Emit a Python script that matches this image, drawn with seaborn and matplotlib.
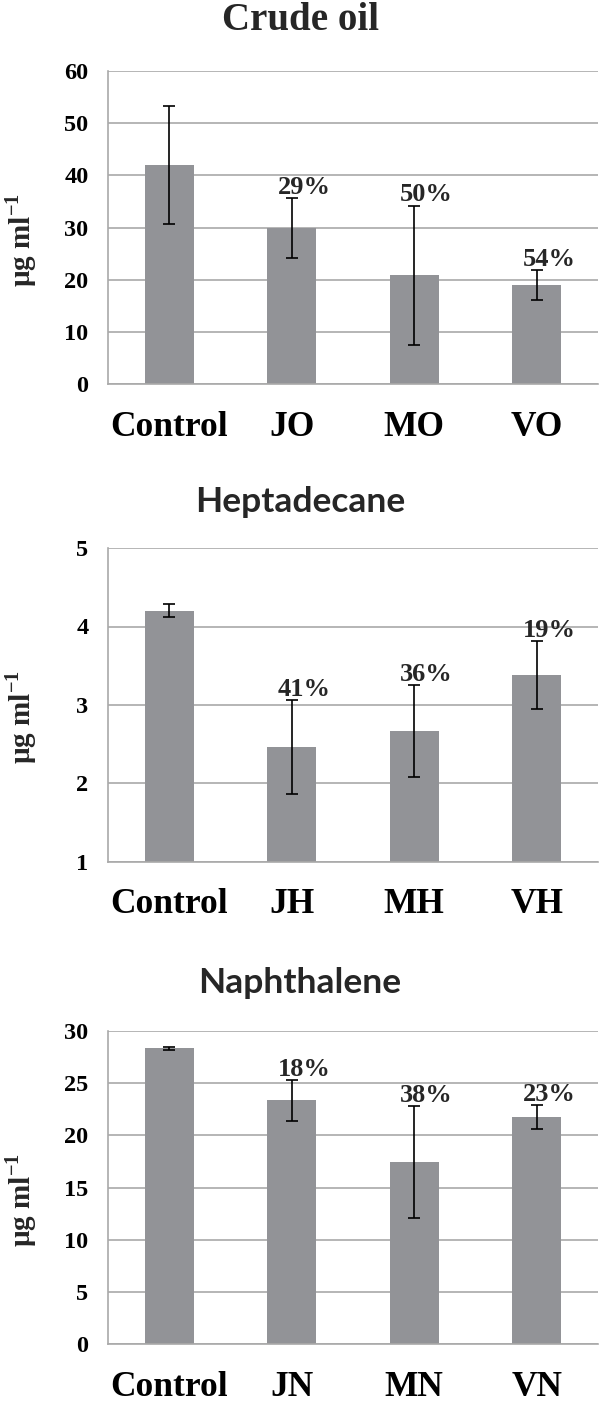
import numpy as np
import seaborn as sns
import matplotlib
matplotlib.use("Agg")
import matplotlib.pyplot as plt

# Data
crude_labels = ["Control", "JO", "MO", "VO"]
crude_mean = [42.0, 29.9, 20.9, 19.0]
crude_err = [11.3, 5.8, 13.3, 2.85]
crude_pct = ["", "29%", "50%", "54%"]

hepta_labels = ["Control", "JH", "MH", "VH"]
hepta_mean = [4.20, 2.46, 2.67, 3.38]
hepta_err = [0.085, 0.60, 0.585, 0.43]
hepta_pct = ["", "41%", "36%", "19%"]

naph_labels = ["Control", "JN", "MN", "VN"]
naph_mean = [28.3, 23.35, 17.45, 21.75]
naph_err = [0.12, 1.95, 5.35, 1.15]
naph_pct = ["", "18%", "38%", "23%"]

sns.set_theme(style="white")
plt.rcParams['font.family'] = ['Liberation Serif', 'DejaVu Serif']
plt.rcParams['font.weight'] = 'bold'
plt.rcParams['mathtext.fontset'] = 'custom'
plt.rcParams['mathtext.rm'] = 'Liberation Serif:bold'
plt.rcParams['mathtext.bf'] = 'Liberation Serif:bold'

bar_color = "#929397"
grid_color = "#a9a9a9"
serif = ['Liberation Serif', 'DejaVu Serif']

fig = plt.figure(figsize=(6, 14.1), dpi=100)

panels = [
    ("Crude oil", serif, 28, crude_labels, crude_mean, crude_err, crude_pct, (0, 60), np.arange(0, 61, 10), 1 - 384.3 / 1410, 1 - 20 / 1410),
    ("Heptadecane", ['Lato', 'DejaVu Sans'], 25.5, hepta_labels, hepta_mean, hepta_err, hepta_pct, (1, 5), np.arange(1, 6, 1), 1 - 861.7 / 1410, 1 - 502 / 1410),
    ("Naphthalene", ['Lato', 'DejaVu Sans'], 25.5, naph_labels, naph_mean, naph_err, naph_pct, (0, 30), np.arange(0, 31, 5), 1 - 1344.3 / 1410, 1 - 983 / 1410),
]

for title, tfont, tsize, labels, means, errs, pcts, ylim, yticks, bottom, ty in panels:
    ax = fig.add_axes([108 / 600, bottom, 490 / 600, 313.6 / 1410])
    sns.barplot(x=labels, y=means, color=bar_color, saturation=1, width=0.4,
                linewidth=0, ax=ax)
    ax.errorbar(np.arange(len(means)), means, yerr=errs, fmt='none',
                ecolor='black', elinewidth=1.2, capsize=4, capthick=1.2, zorder=5)
    for i, p in enumerate(pcts):
        if p:
            ax.annotate(p, (i + 0.1, means[i] + errs[i]), xytext=(0, 3),
                        textcoords='offset points', ha='center', va='baseline',
                        fontsize=19, fontweight='bold', family=serif, zorder=6)

    ax.set_xlim(-0.5, len(labels) - 0.5)
    ax.set_ylim(*ylim)
    ax.set_yticks(yticks)
    ax.set_yticklabels([str(v) for v in yticks], fontsize=17.5, fontweight='bold', family=serif)
    ax.set_xticks(np.arange(len(labels)))
    ax.set_xticklabels(labels, fontsize=25.5, fontweight='bold', family=serif)
    ax.set_xticks(np.arange(len(labels) + 1) - 0.5, minor=True)
    ax.tick_params(axis='x', which='major', length=0, pad=19, colors='black')
    ax.tick_params(axis='x', which='minor', length=7, width=1.2, color=grid_color, direction='out')
    ax.tick_params(axis='y', length=6, width=1.2, color=grid_color, direction='out', pad=8,
                   labelcolor='black')

    ax.set_axisbelow(True)
    ax.yaxis.grid(True, color=grid_color, linewidth=1.2)
    ax.xaxis.grid(False)
    for s in ['top', 'right']:
        ax.spines[s].set_visible(False)
    for s in ['left', 'bottom']:
        ax.spines[s].set_color(grid_color)
        ax.spines[s].set_linewidth(1.2)

    ax.set_ylabel(r"µg ml$^{-1}$", fontsize=21, fontweight='bold', family=serif)
    ax.yaxis.set_label_coords(-0.14, 0.46)
    ax.set_xlabel("")

    fig.text(0.5, ty, title, ha='center', va='center', fontsize=tsize,
             fontweight='bold', family=tfont)

fig.savefig("out.png", dpi=100)
